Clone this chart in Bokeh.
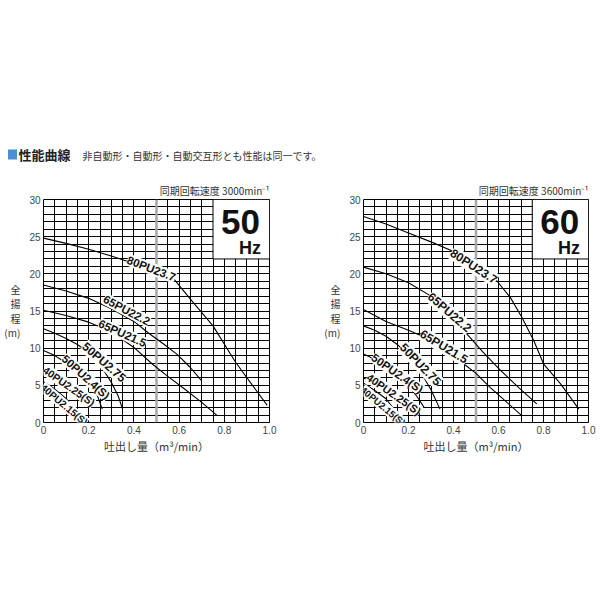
import math
from bokeh.plotting import figure
from bokeh.models import Range1d, FixedTicker, CustomJSTickFormatter, Label
from bokeh.layouts import column, row
from bokeh.embed import file_html
from bokeh.resources import INLINE
from bokeh.core.properties import value

# ---------------- data ----------------
flow_ticks = [0, 0.2, 0.4, 0.6, 0.8, 1.0]
head_ticks = [0, 5, 10, 15, 20, 25, 30]
grid_flow = [0.05, 0.10, 0.15, 0.20, 0.25, 0.30, 0.35, 0.40, 0.45, 0.50,
             0.55, 0.60, 0.65, 0.70, 0.75, 0.80, 0.85, 0.90, 0.95]
grid_head = [1, 2, 3, 4, 5, 6, 7, 8, 9, 10, 11, 12, 13, 14, 15, 16, 17, 18, 19,
             20, 21, 22, 23, 24, 25, 26, 27, 28, 29]
ref_flow = 0.5
badge_flow = (0.75, 1.0)
badge_head = (22, 30)

models = ["80PU23.7", "65PU22.2", "65PU21.5", "50PU2.75",
          "50PU2.4(S)", "40PU2.25(S)", "40PU2.15(S)"]

# 50 Hz  (flow m3/min, head m)
q50_80 = [0, 0.1, 0.2, 0.3, 0.37, 0.48, 0.58, 0.65, 0.75, 0.85, 0.92, 0.99]
h50_80 = [24.8, 24.1, 23.3, 22.4, 21.7, 20.6, 19.2, 16.6, 13.0, 8.1, 5.2, 2.3]
q50_65a = [0, 0.1, 0.2, 0.3, 0.4, 0.47, 0.53, 0.59, 0.65, 0.7]
h50_65a = [18.5, 17.7, 16.7, 15.3, 13.6, 11.9, 10.6, 9.2, 7.4, 5.6]
q50_65b = [0, 0.1, 0.2, 0.3, 0.4, 0.48, 0.55, 0.62, 0.7, 0.77]
h50_65b = [15.1, 14.4, 13.5, 12.2, 10.1, 7.9, 6.2, 4.6, 2.7, 0.9]
q50_50a = [0, 0.05, 0.1, 0.15, 0.2, 0.25, 0.3, 0.33, 0.35]
h50_50a = [12.6, 12.0, 11.3, 10.5, 9.4, 7.8, 5.4, 3.6, 1.8]
q50_50b = [0, 0.05, 0.1, 0.15, 0.2, 0.235, 0.26]
h50_50b = [9.7, 9.0, 8.0, 6.9, 5.4, 3.9, 1.8]
q50_40a = [0, 0.05, 0.1, 0.15, 0.18, 0.205]
h50_40a = [7.2, 6.3, 5.3, 4.0, 3.0, 2.0]
q50_40b = [0, 0.05, 0.1, 0.13, 0.15]
h50_40b = [5.5, 4.5, 3.2, 2.1, 0.7]

# 60 Hz
q60_80 = [0, 0.1, 0.2, 0.3, 0.4, 0.5, 0.594, 0.653, 0.705, 0.757, 0.8, 0.876, 0.957]
h60_80 = [27.7, 26.7, 25.5, 24.3, 23.0, 21.2, 19.0, 16.8, 14.1, 11.0, 7.9, 5.2, 1.8]
q60_65a = [0, 0.1, 0.2, 0.3, 0.38, 0.46, 0.53, 0.609, 0.69, 0.77]
h60_65a = [20.9, 20.0, 18.8, 17.0, 14.9, 11.9, 9.5, 7.0, 4.7, 2.5]
q60_65b = [0, 0.1, 0.2, 0.3, 0.38, 0.445, 0.5, 0.564, 0.63, 0.705]
h60_65b = [15.2, 13.6, 12.4, 11.1, 9.5, 7.9, 6.6, 4.7, 2.9, 0.9]
q60_50a = [0, 0.05, 0.1, 0.15, 0.2, 0.25, 0.3, 0.34]
h60_50a = [13.0, 12.4, 11.6, 10.5, 9.0, 7.0, 4.4, 1.8]
q60_50b = [0, 0.05, 0.1, 0.15, 0.2, 0.24, 0.27]
h60_50b = [9.2, 8.5, 7.6, 6.5, 5.0, 3.4, 2.0]
q60_40a = [0, 0.05, 0.1, 0.15, 0.2]
h60_40a = [6.0, 5.2, 4.3, 3.2, 1.9]
q60_40b = [0, 0.05, 0.1, 0.13, 0.16]
h60_40b = [5.3, 4.3, 3.2, 2.0, 0.4]

curves50 = [(q50_80, h50_80), (q50_65a, h50_65a), (q50_65b, h50_65b), (q50_50a, h50_50a),
            (q50_50b, h50_50b), (q50_40a, h50_40a), (q50_40b, h50_40b)]
curves60 = [(q60_80, h60_80), (q60_65a, h60_65a), (q60_65b, h60_65b), (q60_50a, h60_50a),
            (q60_50b, h60_50b), (q60_40a, h60_40a), (q60_40b, h60_40b)]

# label placement (x, y, angle deg, font px)  -- layout, not data
tags50 = [(0.477, 20.7, 21, 11.5), (0.368, 15.1, 28, 11.5), (0.349, 12.0, 24, 11.5),
          (0.268, 8.1, 41, 12), (0.187, 6.1, 42, 11.5), (0.113, 4.9, 35, 10.5),
          (0.091, 2.4, 40, 10)]
tags60 = [(0.49, 21.0, 33, 12), (0.382, 14.8, 41, 12), (0.357, 10.2, 31, 12),
          (0.253, 7.8, 46, 12), (0.15, 6.6, 35, 11.5), (0.135, 3.8, 35, 11),
          (0.087, 2.2, 40, 9.5)]

ylabel_text = "全\n揚\n程\n(m)"

CJK = "Noto Sans CJK JP"
LAT = "Liberation Sans"


def build(curves, tags, hz_text, title_text, width, left, right):
    p = figure(width=width, height=292, x_range=Range1d(0, 1), y_range=Range1d(0, 30),
               output_backend="svg", toolbar_location=None,
               min_border_left=left, min_border_right=right,
               min_border_top=29, min_border_bottom=40)
    p.title.text = title_text
    p.title.align = "right"
    p.title.text_font = CJK
    p.title.text_font_size = "10px"
    p.title.text_font_style = "normal"
    p.title.text_color = "#333333"
    p.title.standoff = 3

    p.outline_line_color = "black"
    p.outline_line_width = 1
    p.outline_line_alpha = 1
    p.background_fill_color = "white"
    p.border_fill_color = "white"

    p.xgrid.ticker = FixedTicker(ticks=grid_flow)
    p.ygrid.ticker = FixedTicker(ticks=grid_head)
    for g in (p.xgrid, p.ygrid):
        g.grid_line_color = "black"
        g.grid_line_width = 1
        g.grid_line_alpha = 1

    p.xaxis.ticker = FixedTicker(ticks=flow_ticks)
    p.xaxis.formatter = CustomJSTickFormatter(code="return tick == 0 ? '0' : tick.toFixed(1);")
    p.yaxis.ticker = FixedTicker(ticks=head_ticks)
    for ax in (p.xaxis, p.yaxis):
        ax.axis_line_color = None
        ax.major_tick_line_color = None
        ax.minor_tick_line_color = None
        ax.major_tick_out = 0
        ax.major_tick_in = 0
        ax.major_label_text_font = LAT
        ax.major_label_text_font_size = "10px"
        ax.major_label_text_color = "#444444"
        ax.major_label_standoff = 3
        ax.axis_label_text_font = CJK
        ax.axis_label_text_font_style = "normal"
        ax.axis_label_text_color = "#333333"
    p.xaxis.axis_label = "吐出し量（m³/min）"
    p.xaxis.axis_label_text_font_size = "11px"
    p.xaxis.axis_label_standoff = 1

    p.yaxis.axis_label = ylabel_text
    p.yaxis.axis_label_orientation = "horizontal"
    p.yaxis.axis_label_text_font_size = "10px"
    p.yaxis.axis_label_text_line_height = 0.96
    p.yaxis.axis_label_standoff = 6

    # reference gray line at 0.5
    p.line([ref_flow, ref_flow], [0, 30], line_color="#a8a8a8", line_width=2.5)

    for q, h in curves:
        p.line(q, h, line_color="black", line_width=1.1)

    for name, (x, y, ang, fs) in zip(models, tags):
        p.add_layout(Label(x=x, y=y, text=name, angle=-math.radians(ang),
                           text_align="center", text_baseline="middle",
                           text_font=LAT, text_font_style="bold",
                           text_font_size=f"{fs}px", text_color="#111111",
                           background_fill_color="white", background_fill_alpha=1))

    # Hz badge
    p.quad(left=[badge_flow[0]], right=[badge_flow[1]], bottom=[badge_head[0]],
           top=[badge_head[1]], fill_color="white", line_color="black", line_width=1)
    p.add_layout(Label(x=0.872, y=27.0, text=hz_text, text_align="center",
                       text_baseline="middle", text_font=LAT, text_font_style="bold",
                       text_font_size="35px", text_color="#111111"))
    p.add_layout(Label(x=0.962, y=23.5, text="Hz", text_align="right",
                       text_baseline="middle", text_font=LAT, text_font_style="bold",
                       text_font_size="18px", text_color="#111111"))
    return p


f1 = build(curves50, tags50, "50", "同期回転速度 3000min⁻¹", 321, 43, 52)
f2 = build(curves60, tags60, "60", "同期回転速度 3600min⁻¹", 279, 42, 12)

hdr = figure(width=600, height=170, x_range=Range1d(0, 600), y_range=Range1d(0, 170),
             output_backend="svg", toolbar_location=None, min_border=0,
             x_axis_location=None, y_axis_location=None)
hdr.grid.visible = False
hdr.outline_line_color = None
hdr.rect(x=[12], y=[16], width=9, height=10, fill_color="#4a8fd4", line_color=None)
hdr.text(x=[18], y=[16], text=["性能曲線"], text_font=value(CJK), text_font_style="bold",
         text_font_size="13px", text_baseline="middle", text_align="left", text_color="#222222")
hdr.text(x=[82], y=[15], text=["非自動形・自動形・自動交互形とも性能は同一です。"],
         text_font=value(CJK), text_font_size="10px", text_baseline="middle",
         text_align="left", text_color="#333333")

layout = column(hdr, row(f1, f2))
open("out.html", "w").write(file_html(layout, INLINE))
